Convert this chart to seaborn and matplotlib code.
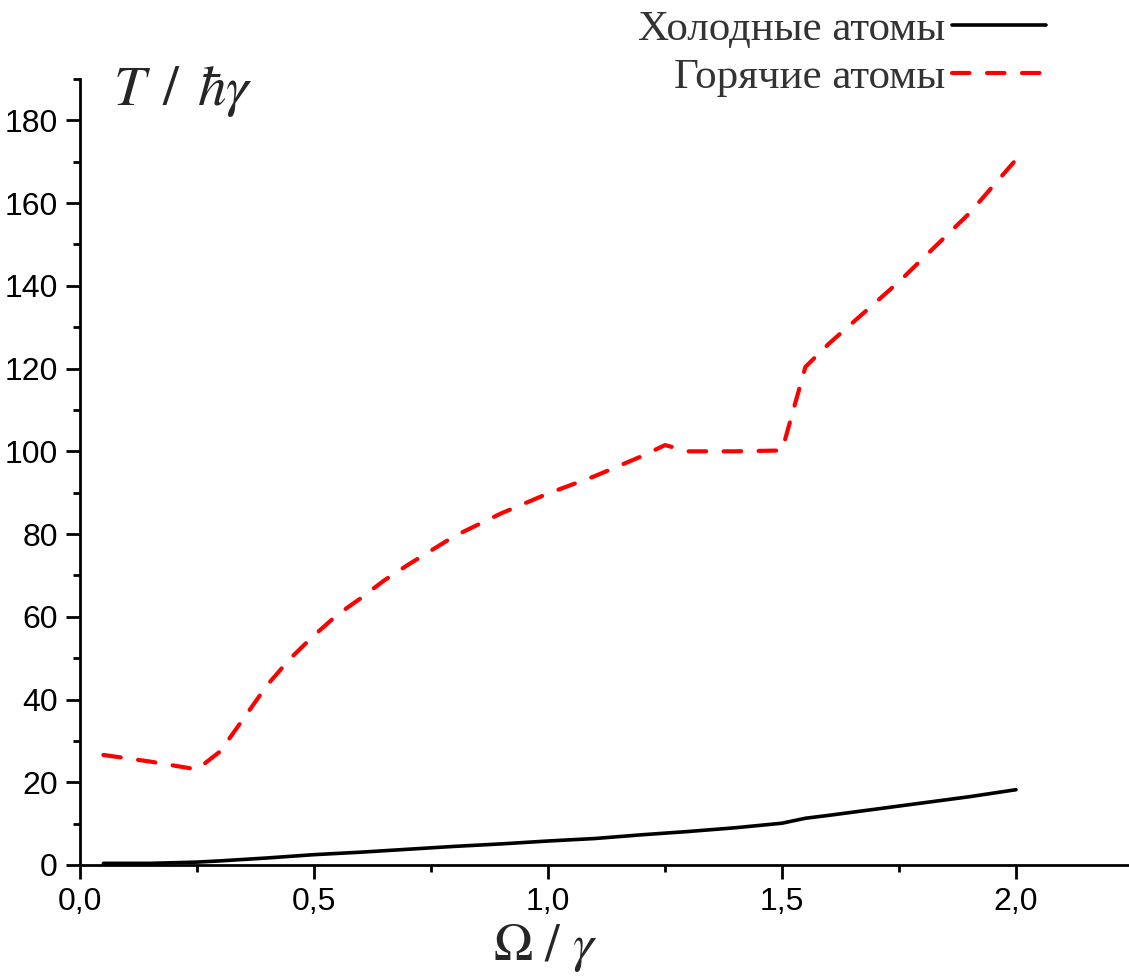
import numpy as np
import pandas as pd
import seaborn as sns
import matplotlib
matplotlib.use("Agg")
import matplotlib.pyplot as plt
from matplotlib.ticker import MultipleLocator, FuncFormatter
from matplotlib.lines import Line2D

# --- data ---
omega_hot = [0.05, 0.15, 0.25, 0.30, 0.35, 0.40, 0.45, 0.50, 0.55, 0.60, 0.65, 0.70, 0.75,
             0.80, 0.90, 1.00, 1.10, 1.20, 1.25, 1.30, 1.40, 1.50, 1.55, 1.60, 1.70, 1.75,
             1.80, 1.90, 2.00]
T_hot = [26.6, 25.0, 23.1, 27.5, 35.5, 43.5, 50.0, 55.5, 60.5, 64.5, 68.8, 72.5, 76.0,
         79.5, 85.0, 89.8, 94.0, 98.8, 101.5, 100.0, 100.0, 100.2, 120.4, 126.0, 136.0, 141.0,
         146.5, 157.5, 170.5]

omega_cold = [0.05, 0.15, 0.25, 0.30, 0.40, 0.50, 0.60, 0.70, 0.80, 0.90, 1.00, 1.10, 1.20,
              1.30, 1.40, 1.50, 1.55, 1.60, 1.70, 1.80, 1.90, 2.00]
T_cold = [0.4, 0.4, 0.7, 1.0, 1.7, 2.5, 3.1, 3.8, 4.5, 5.1, 5.8, 6.4, 7.3,
          8.1, 9.0, 10.1, 11.3, 12.0, 13.5, 15.0, 16.5, 18.2]

label_cold = "Холодные атомы"
label_hot = "Горячие атомы"

df = pd.concat([
    pd.DataFrame({"omega": omega_cold, "T": T_cold, "series": label_cold}),
    pd.DataFrame({"omega": omega_hot, "T": T_hot, "series": label_hot}),
])

sns.set_theme(style="ticks")
plt.rcParams["font.family"] = ["Liberation Sans", "DejaVu Sans"]
plt.rcParams["mathtext.fontset"] = "stix"

fig = plt.figure(figsize=(11.29, 9.76), dpi=100)
ax = fig.add_axes([80 / 1129, 1 - 865 / 976, 1 - 80 / 1129, (865 - 79) / 976])

sns.lineplot(data=df, x="omega", y="T", hue="series", style="series",
             palette={label_cold: "black", label_hot: "#ff0000"},
             dashes={label_cold: "", label_hot: (4.2, 4.2)},
             ax=ax, legend=False, sort=False, estimator=None)
for line in ax.get_lines():
    line.set_solid_capstyle("round")
    line.set_dash_capstyle("round")
ax.lines[0].set_linewidth(2.6)
ax.lines[1].set_linewidth(3.0)

ax.set_xlim(0, (1129 - 80) / 468)
ax.set_ylim(0, 190)
ax.xaxis.set_major_locator(MultipleLocator(0.5))
ax.xaxis.set_minor_locator(MultipleLocator(0.25))
ax.yaxis.set_major_locator(MultipleLocator(20))
ax.yaxis.set_minor_locator(MultipleLocator(10))
ax.xaxis.set_major_formatter(FuncFormatter(lambda v, p: f"{v:.1f}".replace(".", ",")))
ax.yaxis.set_major_formatter(FuncFormatter(lambda v, p: f"{v:.0f}"))

for s in ["top", "right"]:
    ax.spines[s].set_visible(False)
for s in ["left", "bottom"]:
    ax.spines[s].set_linewidth(2.0)
    ax.spines[s].set_color("black")
ax.tick_params(which="major", length=10, width=2.0, labelsize=23, colors="black", pad=6)
ax.tick_params(which="minor", length=5, width=2.0, colors="black")
ax.set_xlabel("")
ax.set_ylabel("")

fig.text(113 / 1129, 1 - 92 / 976, r"$T\;\,/\;\,\hbar\gamma$", fontsize=41, ha="left", va="center")
fig.text(545 / 1129, 1 - 948 / 976, r"$\Omega\ /\ \gamma$", fontsize=38, ha="center", va="center")

handles = [Line2D([], [], color="black", lw=2.6),
           Line2D([], [], color="#ff0000", lw=3.0, dashes=(4.2, 4.2), dash_capstyle="round")]
leg = fig.legend(handles, [label_cold, label_hot], loc="upper right",
                 bbox_to_anchor=(1085 / 1129, 1.03), frameon=False, markerfirst=False,
                 handlelength=2.2, handletextpad=0.15, labelspacing=0.22,
                 prop={"family": ["Liberation Serif", "DejaVu Serif"], "size": 31})
for t in leg.get_texts():
    t.set_color("#333333")

fig.savefig("out.png", dpi=100)
